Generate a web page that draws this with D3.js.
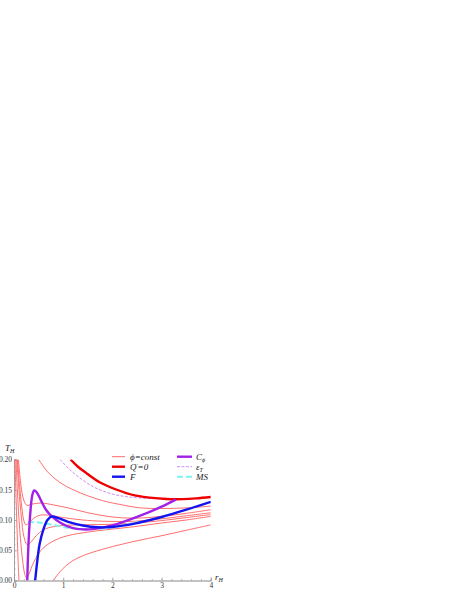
<!DOCTYPE html>
<html>
<head>
<meta charset="utf-8">
<script src="https://cdnjs.cloudflare.com/ajax/libs/d3/7.8.5/d3.min.js"></script>
<style>
  body { margin: 0; background: #fff; }
  svg { display: block; }
  .tick text { font-family: "Liberation Serif", serif; font-size: 7.5px; fill: #333; }
  .lg { font-family: "Liberation Serif", serif; font-size: 9px; font-style: italic; fill: #222; }
</style>
</head>
<body>
<div id="viz"></div>
<script>
// each series: [r_H, T_H] pairs
let phiA = [[0.5,0.2],[0.7,0.178],[0.935,0.162],[1.2,0.150],[1.5,0.140],[1.8,0.132],[2.2,0.125],[2.56,0.120],[3.0,0.119],[3.5,0.120],[4,0.123]];
let phiB = [[0.09,0.2],[0.13,0.165],[0.18,0.138],[0.23,0.127],[0.27,0.124],[0.35,0.126],[0.55,0.128],[0.8,0.125],[1.1,0.12],[1.5,0.112],[2.0,0.105],[2.45,0.103],[3.0,0.106],[3.5,0.111],[4,0.117]];
let phiC = [[0.07,0.2],[0.11,0.16],[0.16,0.12],[0.2,0.099],[0.24,0.092],[0.3,0.095],[0.4,0.103],[0.53,0.108],[0.7,0.108],[1.0,0.104],[1.4,0.100],[1.8,0.098],[2.45,0.098],[3.0,0.102],[3.5,0.107],[4,0.112]];
let phiD = [[0.06,0.2],[0.1,0.15],[0.15,0.105],[0.2,0.073],[0.27,0.059],[0.35,0.064],[0.45,0.074],[0.6,0.084],[0.8,0.089],[1.0,0.091],[1.4,0.092],[2.0,0.093],[2.45,0.095],[3.0,0.099],[3.5,0.104],[4,0.109]];
let phiE = [[0.04,0.2],[0.08,0.13],[0.13,0.07],[0.18,0.03],[0.22,0.01],[0.255,0.004],[0.3,0.01],[0.4,0.03],[0.55,0.05],[0.73,0.062],[1.0,0.072],[1.41,0.079],[2.0,0.085],[2.45,0.089],[3.0,0.095],[3.5,0.1],[4,0.106]];
let phiG = [[0.80,0],[0.87,0.008],[0.935,0.0145],[1.05,0.024],[1.2,0.033],[1.4,0.041],[1.61,0.047],[2.0,0.056],[2.46,0.065],[3.0,0.074],[3.5,0.083],[4,0.092]];
let phiH = [[0.02,0.2],[0.04,0.14],[0.06,0.09],[0.08,0.04],[0.1,0]];
let qZero = [[1.15,0.2],[1.3,0.188],[1.48,0.177],[1.75,0.162],[2.09,0.150],[2.43,0.141],[2.76,0.137],[3.1,0.1347],[3.44,0.1345],[3.7,0.1357],[4,0.138]];
let epsT = [[0.935,0.2],[1.1,0.186],[1.3,0.172],[1.61,0.155],[1.95,0.144],[2.29,0.1385],[2.63,0.136],[3.0,0.135],[3.3,0.1345]];
let cPhi = [[0.27,0],[0.28,0.03],[0.30,0.07],[0.33,0.11],[0.37,0.14],[0.41,0.149],[0.46,0.146],[0.55,0.132],[0.65,0.117],[0.78,0.105],[0.95,0.095],[1.18,0.087],[1.4,0.0845],[1.6,0.085],[2.0,0.091],[2.5,0.105],[3.0,0.122],[3.29,0.1336]];
let fCurve = [[0.43,0],[0.47,0.03],[0.52,0.06],[0.6,0.085],[0.68,0.1],[0.77,0.106],[0.9,0.103],[1.1,0.097],[1.4,0.091],[1.7,0.088],[2.0,0.0885],[2.45,0.094],[3.0,0.105],[3.5,0.117],[4.0,0.130]];
let msCurve = [[0.28,0.0966],[0.5,0.096],[0.8,0.092],[1.1,0.087],[1.4,0.085],[1.7,0.0855],[2.0,0.088],[2.3,0.093],[2.55,0.097]];

let xTicks = [0,1,2,3,4];
let yTicks = [0,0.05,0.10,0.15,0.20];

let width = 457, height = 591;
let x0 = 14, x1 = 210.8, yTop = 459.5, yBot = 580.5;

let xScale = d3.scaleLinear().domain([0,4]).range([x0,x1]);
let yScale = d3.scaleLinear().domain([0,0.2]).range([yBot,yTop]);

let svg = d3.select('#viz').append('svg')
    .attr('width',width)
    .attr('height',height);

svg.append('clipPath').attr('id','plotclip')
  .append('rect')
    .attr('x',x0).attr('y',yTop)
    .attr('width',x1-x0).attr('height',yBot-yTop);

// axes
let yAxis = d3.axisLeft(yScale).tickValues(yTicks).tickSize(-3).tickPadding(2)
    .tickFormat(d3.format('.2f'));
let yMinor = d3.axisLeft(yScale).tickValues(d3.range(0,0.2001,0.01)).tickSize(-1.5).tickFormat('');
let xAxis = d3.axisBottom(xScale).tickValues(xTicks).tickSize(-3).tickPadding(2)
    .tickFormat(d3.format('d'));
let xMinor = d3.axisBottom(xScale).tickValues(d3.range(0,4.001,0.2)).tickSize(-1.5).tickFormat('');

[[yMinor,'y'],[yAxis,'y'],[xMinor,'x'],[xAxis,'x']].forEach(function(a){
  let g = svg.append('g')
    .attr('transform', a[1]=='y' ? 'translate('+x0+',0)' : 'translate(0,'+yBot+')')
    .call(a[0]);
  g.selectAll('path,line').attr('stroke','#999').attr('stroke-width',0.7);
});
svg.selectAll('.tick text').filter(function(){return this.textContent=='';}).remove();

svg.append('text').attr('x',5).attr('y',451).attr('class','lg').style('font-size','9px')
  .html('T<tspan font-size="6" dy="2">H</tspan>');
svg.append('text').attr('x',215).attr('y',580).attr('class','lg').style('font-size','9px')
  .html('r<tspan font-size="6" dy="2">H</tspan>');

let line = d3.line()
    .x(function(d){return xScale(d[0]);})
    .y(function(d){return yScale(d[1]);})
    .curve(d3.curveCatmullRom.alpha(0.5));

let plot = svg.append('g').attr('clip-path','url(#plotclip)');

let thin = {stroke:'#ff5c5c', w:0.9, dash:null};
let styles = {
  phi: thin,
  q: {stroke:'#ee0000', w:2.4, dash:null},
  f: {stroke:'#1414f0', w:2.4, dash:null},
  c: {stroke:'#a020e8', w:2.4, dash:null},
  e: {stroke:'#c77ef2', w:0.9, dash:'3,1.5'},
  ms: {stroke:'#7cf2f2', w:2, dash:'6,3'}
};

let series = [
  [phiA,'phi'],[phiB,'phi'],[phiC,'phi'],[phiD,'phi'],[phiE,'phi'],[phiG,'phi'],[phiH,'phi'],
  [epsT,'e'],[qZero,'q'],[msCurve,'ms'],[cPhi,'c'],[fCurve,'f']
];

plot.selectAll('path.curve').data(series)
  .enter().append('path')
    .attr('class','curve')
    .attr('d',function(d){return line(d[0]);})
    .attr('fill','none')
    .attr('stroke',function(d){return styles[d[1]].stroke;})
    .attr('stroke-width',function(d){return styles[d[1]].w;})
    .attr('stroke-dasharray',function(d){return styles[d[1]].dash;});

// legend
let legend = [
  ['phi', '<tspan>ϕ=const</tspan>', 0, 0],
  ['q', 'Q<tspan font-size="5" dy="-3">′</tspan><tspan dy="3">=0</tspan>', 0, 1],
  ['f', 'F', 0, 2],
  ['c', 'C<tspan font-size="6" dy="2">ϕ</tspan>', 1, 0],
  ['e', 'ε<tspan font-size="6" dy="2">T</tspan>', 1, 1],
  ['ms', 'MS', 1, 2]
];
let lg = svg.selectAll('g.leg').data(legend).enter().append('g')
  .attr('transform',function(d){return 'translate('+(d[2]==0?112:177)+','+(456.7+d[3]*10)+')';});
lg.append('line').attr('x1',0).attr('x2',function(d){return d[2]==0?13:15;})
  .attr('stroke',function(d){return styles[d[0]].stroke;})
  .attr('stroke-width',function(d){return styles[d[0]].w;})
  .attr('stroke-dasharray',function(d){return styles[d[0]].dash;});
lg.append('text').attr('class','lg').attr('x',function(d){return d[2]==0?18:19;}).attr('y',3)
  .html(function(d){return d[1];});
</script>
</body>
</html>
